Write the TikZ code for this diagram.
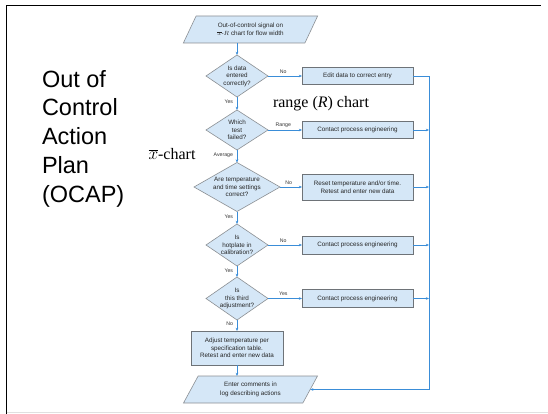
\documentclass[tikz,border=0pt]{standalone}
\usepackage{fontspec}
\setmainfont{Liberation Serif}
\newfontfamily\flowfont{Liberation Sans}
\usetikzlibrary{shapes.geometric, arrows.meta}

\definecolor{boxfill}{HTML}{D5E7F7}
\definecolor{boxline}{HTML}{6E7378}
\definecolor{flowblue}{HTML}{3A8DD8}

\begin{document}
\begin{tikzpicture}[x=1pt, y=-1pt,
  every node/.style={inner sep=0pt, outer sep=0pt},
  flowtxt/.style={font=\flowfont\fontsize{6.3}{7.6}\selectfont, align=center, text=black!85},
  procbox/.style={flowtxt, rectangle, draw=boxline, fill=boxfill, line width=0.8pt,
    minimum width=111pt, minimum height=#1},
  decision/.style 2 args={diamond, draw=boxline!80, fill=boxfill, line width=0.6pt,
    minimum width=#1, minimum height=#2},
  iobox/.style={flowtxt, font=\flowfont\fontsize{6.3}{8.4}\selectfont,
    trapezium, trapezium left angle=59.3, trapezium right angle=120.7,
    trapezium stretches=true, draw=boxline!80, fill=boxfill, line width=0.6pt,
    minimum width=135pt, minimum height=27pt},
  link/.style={draw=flowblue, line width=0.8pt, -{Stealth[length=3.2pt,width=2.6pt]}},
  branch/.style={font=\flowfont\fontsize{5.2}{6}\selectfont, text=black!80},
  bigtitle/.style={font=\flowfont\fontsize{23.5}{28.8}\selectfont, align=left},
  charttag/.style={font=\fontsize{16}{18}\selectfont},
]
\useasboundingbox (0,0) rectangle (548,414);

% slide frame
\draw[line width=1.2pt] (6.5,414) -- (6.5,5.5) -- (541,5.5);
\draw[black!12, line width=0.6pt] (6.5,412.5) -- (548,412.5);

% title
\node[bigtitle, anchor=north west] (title) at (42,70)
  {Out of\\Control\\Action\\Plan\\(OCAP)};

% chart annotations
\node[charttag] (rtag) at (321,104) {range (\textit{R}) chart};
\node[charttag] (xtag) at (172,154) {$\overline{x}$-chart};

% main column
\node[iobox] (p1) at (250.5,29.5) {Out-of-control signal on\\$\overline{x}$-$R$ chart for flow width};

\node[decision={62pt}{42pt}] (d1) at (237,76) {};
\node[flowtxt] (d1t) at (d1) {Is data\\entered\\correctly?};

\node[decision={62pt}{40pt}] (d2) at (237,130) {};
\node[flowtxt] (d2t) at (d2) {Which\\test\\failed?};

\node[decision={86pt}{49pt}] (d3) at (237,187) {};
\node[flowtxt] (d3t) at (d3) {Are temperature\\and time settings\\correct?};

\node[decision={62pt}{42pt}] (d4) at (237,245) {};
\node[flowtxt] (d4t) at (d4) {Is\\hotplate in\\calibration?};

\node[decision={62pt}{43pt}] (d5) at (237,298.5) {};
\node[flowtxt] (d5t) at (d5) {Is\\this third\\adjustment?};

\node[procbox=34pt, minimum width=92pt] (adj) at (237,348)
  {Adjust temperature per\\specification table.\\Retest and enter new data};

\node[iobox] (p2) at (250.5,389.5) {Enter comments in\\log describing actions};

% action column
\node[procbox=17pt] (b1) at (357.5,76) {Edit data to correct entry};
\node[procbox=17pt] (b2) at (357.5,130) {Contact process engineering};
\node[procbox=26pt] (b3) at (357.5,187) {Reset temperature and/or time.\\Retest and enter new data};
\node[procbox=18pt] (b4) at (357.5,245) {Contact process engineering};
\node[procbox=18pt] (b5) at (357.5,298.5) {Contact process engineering};

\coordinate (rail) at (429,0);

% vertical flow
\draw[link] (p1.south -| d1.north) -- (d1.north);
\draw[link] (d1.south) -- node[branch, left=4pt, pos=0.35] (l1) {Yes} (d2.north);
\draw[link] (d2.south) -- node[branch, left=4pt, pos=0.45] (l2) {Average} (d3.north);
\draw[link] (d3.south) -- node[branch, left=4pt, pos=0.4] (l3) {Yes} (d4.north);
\draw[link] (d4.south) -- node[branch, left=4pt, pos=0.4] (l4) {Yes} (d5.north);
\draw[link] (d5.south) -- node[branch, left=4pt, pos=0.3] (l5) {No} (adj.north);
\draw[link] (adj.south) -- (adj.south |- p2.north);

% branches to the actions
\draw[link] (d1.east) -- node[branch, above=2.5pt, pos=0.45] (m1) {No} (b1.west);
\draw[link] (d2.east) -- node[branch, above=2.5pt, pos=0.45] (m2) {Range} (b2.west);
\draw[link] (d3.east) -- node[branch, above=2.5pt, pos=0.4] (m3) {No} (b3.west);
\draw[link] (d4.east) -- node[branch, above=2.5pt, pos=0.45] (m4) {No} (b4.west);
\draw[link] (d5.east) -- node[branch, above=2.5pt, pos=0.45] (m5) {Yes} (b5.west);

% return rail
\draw[link] (b1.east) -- (b1.east -| rail) |- (p2.east);
\foreach \b in {b2,b3,b4,b5}
  \draw[link] (\b.east) -- (\b.east -| rail);
\end{tikzpicture}
\end{document}
